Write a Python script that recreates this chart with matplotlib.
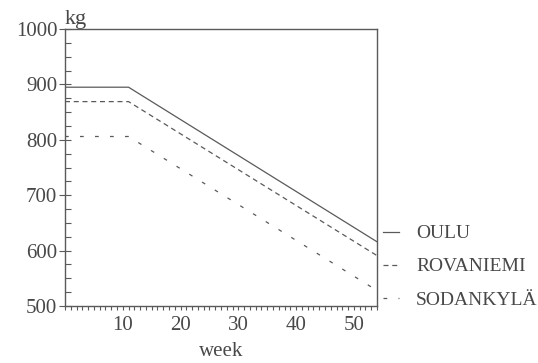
"""
Weekly weight curves for three northern stations
"""
import matplotlib
matplotlib.use("Agg")
from matplotlib import pyplot as plt
from matplotlib.ticker import MultipleLocator

# week breakpoints of the piecewise curves
weeks = [0, 11, 54]
oulu = [895, 895, 616]
rovaniemi = [869, 869, 591]
sodankyla = [806, 806, 528]

labels = ["OULU", "ROVANIEMI", "SODANKYLÄ"]
x_ticks = [10, 20, 30, 40, 50]
y_ticks = [500, 600, 700, 800, 900, 1000]


def main():
    plt.rcParams['font.family'] = ['Liberation Serif', 'DejaVu Serif']
    grey = '#5a5a5a'
    text_grey = '#484848'
    fig = plt.figure(figsize=(5.38, 3.63), dpi=100)
    ax = fig.add_axes([0.1208, 0.157, 0.5799, 0.763])

    ax.plot(weeks, oulu, color=grey, lw=0.9, label=labels[0])
    ax.plot(weeks, rovaniemi, color=grey, lw=0.9, dashes=(4, 3),
            label=labels[1])
    ax.plot(weeks, sodankyla, color=grey, lw=0.9, dashes=(3, 9),
            label=labels[2])

    ax.set_xlim(0, 54)
    ax.set_ylim(500, 1000)
    ax.set_xticks(x_ticks)
    ax.set_yticks(y_ticks)
    ax.xaxis.set_minor_locator(MultipleLocator(1))
    ax.yaxis.set_minor_locator(MultipleLocator(25))

    ax.tick_params(axis='x', which='both', direction='out', length=3,
                   width=0.8, color=grey, labelsize=15, labelcolor=text_grey,
                   pad=4)
    ax.tick_params(axis='y', which='major', direction='inout', length=9,
                   width=0.8, color=grey, labelsize=15, labelcolor=text_grey,
                   pad=1)
    ax.tick_params(axis='y', which='minor', direction='in', length=4,
                   width=0.8, color=grey)
    for spine in ax.spines.values():
        spine.set_color(grey)
        spine.set_linewidth(1.0)

    ax.text(0.0, 1.0, "kg", transform=ax.transAxes, ha='left',
            va='bottom', fontsize=16, color=text_grey)
    ax.set_xlabel("week", fontsize=15, color=text_grey, labelpad=5)

    leg = ax.legend(loc='upper left', bbox_to_anchor=(0.712, 0.381),
                    bbox_transform=fig.transFigure, frameon=False,
                    fontsize=14, handlelength=0.8, handletextpad=0.9,
                    labelspacing=0.8, borderpad=0, borderaxespad=0)
    for text in leg.get_texts():
        text.set_color(text_grey)

    fig.savefig("out.png", dpi=100)


if __name__ == '__main__':
    main()
